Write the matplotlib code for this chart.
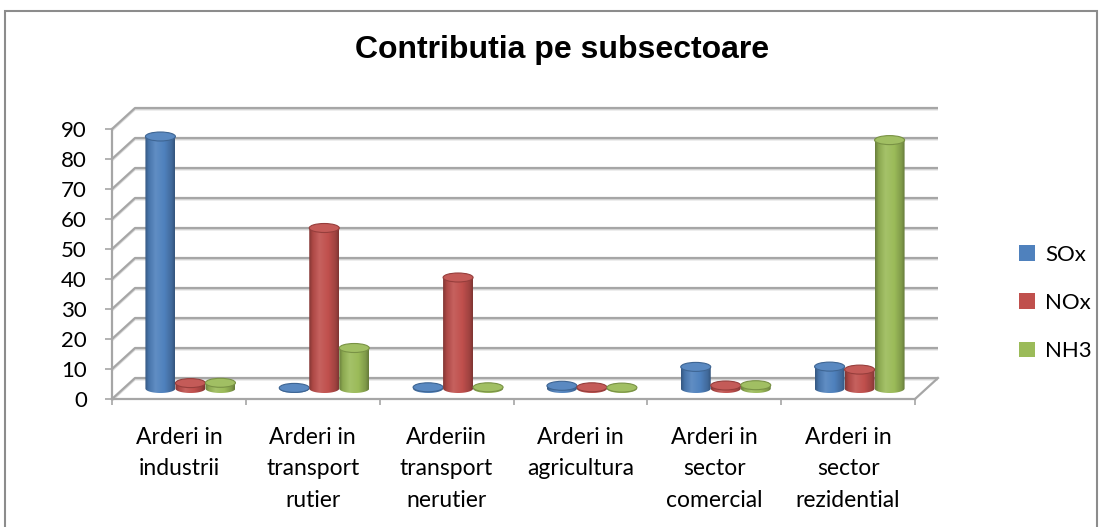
import numpy as np
import matplotlib
matplotlib.use("Agg")
import matplotlib.pyplot as plt
from matplotlib.colors import to_rgb, LinearSegmentedColormap
from matplotlib.patches import PathPatch, Ellipse, Rectangle, Patch
from matplotlib.path import Path

# ---------------- data ----------------
categories = [
    "Arderi in\nindustrii",
    "Arderi in\ntransport\nrutier",
    "Arderiin\ntransport\nnerutier",
    "Arderi in\nagricultura",
    "Arderi in\nsector\ncomercial",
    "Arderi in\nsector\nrezidential",
]
series_names = ["SOx", "NOx", "NH3"]
sox = [84.0, 0.2, 0.4, 0.9, 7.2, 7.3]
nox = [1.8, 53.5, 37.0, 0.4, 1.0, 6.3]
nh3 = [1.9, 13.5, 0.4, 0.3, 1.1, 82.8]
series_values = [sox, nox, nh3]
colors = ["#4F81BD", "#C0504D", "#9BBB59"]
yticks = list(range(0, 100, 10))

# ---------------- layout ----------------
W_PX, H_PX = 1102, 527
fig = plt.figure(figsize=(W_PX / 100, H_PX / 100), dpi=100)
fig.patch.set_facecolor("white")

ax_left, ax_right = 112, 915
ax_bottom, ax_top = 399, 129
ax = fig.add_axes([ax_left / W_PX, (H_PX - ax_bottom) / H_PX,
                   (ax_right - ax_left) / W_PX, (ax_bottom - ax_top) / H_PX])
ax.set_facecolor("none")
n = len(categories)
XMAX, YMAX = n, 90
px_per_x = (ax_right - ax_left) / XMAX
px_per_y = (ax_bottom - ax_top) / YMAX

# depth of the 3D box (back wall offset) in data units
DX = 23 / px_per_x
DY = 21 / px_per_y
BAR_F = 0.5            # bars sit halfway in depth
BAR_W = 30 / px_per_x
ELL_H = 4.5 / px_per_y  # half height of cylinder ellipse

GRID_C = "#a6a6a6"
GRID_SH = "#d9d9d9"

# back wall gridlines + side wall diagonals
for v in yticks:
    xs = [0, DX, XMAX + DX]
    ys = [v, v + DY, v + DY]
    ax.plot(xs, [y - 0.45 for y in ys], color=GRID_SH, lw=1.6, clip_on=False, zorder=1,
            solid_capstyle="butt")
    ax.plot(xs, ys, color=GRID_C, lw=1.6, clip_on=False, zorder=1.1,
            solid_capstyle="butt")
# floor right edge
ax.plot([XMAX, XMAX + DX], [0, DY], color=GRID_C, lw=1.6, clip_on=False, zorder=1.1)


def shade(c, f):
    rgb = np.array(to_rgb(c))
    if f <= 1:
        return tuple(rgb * f)
    return tuple(rgb + (1 - rgb) * (f - 1))


prof_pos = [0.0, 0.12, 0.35, 0.65, 0.9, 1.0]
prof_f = [0.68, 0.9, 1.1, 1.0, 0.82, 0.66]
grad = np.linspace(0, 1, 64)[np.newaxis, :]

for s, (vals, col) in enumerate(zip(series_values, colors)):
    cmap = LinearSegmentedColormap.from_list(
        f"c{s}", [(p, shade(col, f)) for p, f in zip(prof_pos, prof_f)])
    for i, v in enumerate(vals):
        cx = i + 0.5 + (s - 1) * BAR_W + BAR_F * DX
        x0, x1 = cx - BAR_W / 2, cx + BAR_W / 2
        yb = BAR_F * DY
        yt = yb + v
        t = np.linspace(0, -np.pi, 40)
        verts = [(cx + BAR_W / 2 * np.cos(a), yb + ELL_H * np.sin(a)) for a in t]
        verts += [(x0, yt), (x1, yt), (x1, yb), (x1, yb)]
        codes = [Path.MOVETO] + [Path.LINETO] * (len(verts) - 2) + [Path.CLOSEPOLY]
        patch = PathPatch(Path(verts, codes), facecolor="none", edgecolor="none",
                          zorder=3 + s * 0.1)
        ax.add_patch(patch)
        im = ax.imshow(grad, cmap=cmap, extent=[x0, x1, yb - ELL_H, yt],
                       aspect="auto", zorder=3 + s * 0.1, interpolation="bilinear")
        im.set_clip_path(patch)
        ax.add_patch(Ellipse((cx, yt), BAR_W, 2 * ELL_H,
                             facecolor=shade(col, 1.06), edgecolor=shade(col, 0.78),
                             lw=0.8, zorder=3.05 + s * 0.1))

ax.set_xlim(0, XMAX)
ax.set_ylim(0, YMAX)
ax.set_aspect("auto")

for side in ["top", "right"]:
    ax.spines[side].set_visible(False)
for side in ["left", "bottom"]:
    ax.spines[side].set_color(GRID_C)
    ax.spines[side].set_linewidth(1.6)

LABEL_FONT = ["Lato", "DejaVu Sans"]
ax.set_yticks(yticks)
ax.set_yticklabels([str(v) for v in yticks], fontsize=16, family=LABEL_FONT)
ax.tick_params(axis="y", direction="out", length=5, width=1.2, color=GRID_C, pad=13)

ax.set_xticks(range(n + 1))
ax.set_xticklabels([])
ax.tick_params(axis="x", which="major", direction="out", length=4.5, width=1.2, color=GRID_C)
ax.set_xticks([i + 0.5 for i in range(n)], minor=True)
ax.set_xticklabels(categories, minor=True, fontsize=16.5, family=LABEL_FONT, linespacing=1.62)
ax.tick_params(axis="x", which="minor", length=0, pad=20)

# title
fig.text(562.5 / W_PX, 1 - 58 / H_PX, "Contributia pe subsectoare", ha="center", va="baseline",
         fontsize=23, fontweight="bold", family=["Liberation Sans", "DejaVu Sans"])

# legend
handles = [Patch(facecolor=c, edgecolor="none") for c in colors]
fig.legend(handles, series_names, loc="center left",
           bbox_to_anchor=(1019 / W_PX, 1 - 303 / H_PX), frameon=False,
           prop={"family": LABEL_FONT, "size": 16},
           handlelength=0.72, handleheight=0.72, handletextpad=0.45,
           labelspacing=1.27, borderpad=0, borderaxespad=0)

# outer border
fig.add_artist(Rectangle((4.5 / W_PX, -0.05), (1097 - 4.5) / W_PX, 1 - 10.5 / H_PX + 0.05,
                         transform=fig.transFigure, fill=False, edgecolor="#8c8c8c",
                         lw=1.5, clip_on=False))

fig.savefig("out.png", dpi=100)
